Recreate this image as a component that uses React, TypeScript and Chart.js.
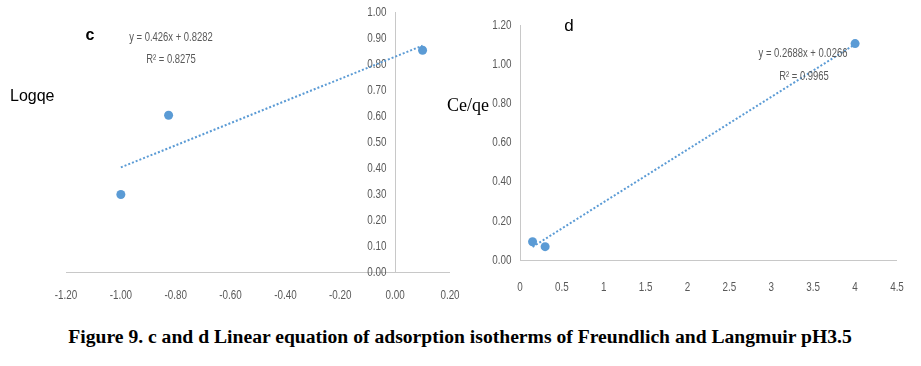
import React, { useEffect, useRef } from "react";
import { Chart, registerables } from "chart.js";

Chart.register(...registerables);

// ---- Data: Freundlich (chart c) ----
const freundlichX = [-1.0, -0.826, 0.1];
const freundlichY = [0.298, 0.603, 0.853];
const freundlichSlope = 0.426;
const freundlichIntercept = 0.8282;
const freundlichEquation = "y = 0.426x + 0.8282";
const freundlichR2 = "R\u00B2 = 0.8275";
const freundlichXTicks = ["-1.20", "-1.00", "-0.80", "-0.60", "-0.40", "-0.20", "0.00", "0.20"];
const freundlichYTicks = ["0.00", "0.10", "0.20", "0.30", "0.40", "0.50", "0.60", "0.70", "0.80", "0.90", "1.00"];

// ---- Data: Langmuir (chart d) ----
const langmuirX = [0.15, 0.3, 4.0];
const langmuirY = [0.093, 0.068, 1.105];
const langmuirSlope = 0.2688;
const langmuirIntercept = 0.0266;
const langmuirEquation = "y = 0.2688x + 0.0266";
const langmuirR2 = "R\u00B2 = 0.9965";
const langmuirXTicks = ["0", "0.5", "1", "1.5", "2", "2.5", "3", "3.5", "4", "4.5"];
const langmuirYTicks = ["0.00", "0.20", "0.40", "0.60", "0.80", "1.00", "1.20"];

const caption =
  "Figure 9. c and d Linear equation of adsorption isotherms of Freundlich and Langmuir pH3.5";

const BLUE = "#5b9bd5";
const AXIS = "#c8c8c8";
const TICK = "#595959";
const SANS = "'Liberation Sans', Arial, sans-serif";
const TICK_FONT = `13.5px ${SANS}`;
const TICK_SCALE = 0.73;

function drawSquished(ctx: CanvasRenderingContext2D, text: string, x: number, y: number, align: CanvasTextAlign) {
  ctx.save();
  ctx.translate(x, y);
  ctx.scale(TICK_SCALE, 1);
  ctx.textAlign = align;
  ctx.textBaseline = "middle";
  ctx.fillText(text, 0, 0);
  ctx.restore();
}

const axesPlugin = {
  id: "excelAxes",
  beforeDatasetsDraw(chart: any, _args: any, opts: any) {
    const { ctx, chartArea } = chart;
    const xs = chart.scales.x;
    const ys = chart.scales.y;
    const ax = Math.round(xs.getPixelForValue(0)) + 0.5;
    const ay = Math.round(ys.getPixelForValue(0)) + 0.5;
    ctx.save();
    ctx.strokeStyle = AXIS;
    ctx.lineWidth = 1;
    ctx.beginPath();
    ctx.moveTo(chartArea.left, ay);
    ctx.lineTo(chartArea.right, ay);
    ctx.moveTo(ax, chartArea.top);
    ctx.lineTo(ax, chartArea.bottom);
    ctx.stroke();
    ctx.fillStyle = TICK;
    ctx.font = TICK_FONT;
    for (const t of opts.xTicks as string[]) {
      drawSquished(ctx, t, xs.getPixelForValue(parseFloat(t)), ay + opts.xLabelOffset, "center");
    }
    for (const t of opts.yTicks as string[]) {
      drawSquished(ctx, t, ax - opts.yLabelGap, ys.getPixelForValue(parseFloat(t)), "right");
    }
    ctx.restore();
  },
};

type Padding = { left: number; right: number; top: number; bottom: number };

function makeConfig(
  xs: number[],
  ys: number[],
  slope: number,
  intercept: number,
  xTicks: string[],
  yTicks: string[],
  padding: Padding,
  xLabelOffset: number
): any {
  const pts = xs.map((x, i) => ({ x, y: ys[i] }));
  const x0 = Math.min(...xs);
  const x1 = Math.max(...xs);
  const trend = [
    { x: x0, y: slope * x0 + intercept },
    { x: x1, y: slope * x1 + intercept },
  ];
  const xv = xTicks.map(parseFloat);
  const yv = yTicks.map(parseFloat);
  return {
    type: "scatter",
    data: {
      datasets: [
        {
          data: pts,
          backgroundColor: BLUE,
          borderColor: BLUE,
          pointRadius: 4.5,
          pointBorderWidth: 0,
          order: 0,
        },
        {
          data: trend,
          showLine: true,
          borderColor: BLUE,
          borderWidth: 2,
          borderDash: [2, 2],
          pointRadius: 0,
          fill: false,
          order: 1,
        },
      ],
    },
    plugins: [axesPlugin],
    options: {
      responsive: false,
      maintainAspectRatio: false,
      animation: false,
      layout: { padding },
      plugins: {
        legend: { display: false },
        tooltip: { enabled: false },
        excelAxes: { xTicks, yTicks, xLabelOffset, yLabelGap: 9 },
      },
      scales: {
        x: {
          type: "linear",
          display: false,
          min: Math.min(...xv),
          max: Math.max(...xv),
          afterFit: (s: any) => {
            s.height = 0;
            s.paddingLeft = 0;
            s.paddingRight = 0;
            s.paddingTop = 0;
            s.paddingBottom = 0;
          },
        },
        y: {
          type: "linear",
          display: false,
          min: Math.min(...yv),
          max: Math.max(...yv),
          afterFit: (s: any) => {
            s.width = 0;
            s.paddingLeft = 0;
            s.paddingRight = 0;
            s.paddingTop = 0;
            s.paddingBottom = 0;
          },
        },
      },
    },
  };
}

function ChartCanvas({ config, left, top, width, height }: any) {
  const ref = useRef<HTMLCanvasElement | null>(null);
  useEffect(() => {
    if (!ref.current) return;
    const chart = new Chart(ref.current, config);
    return () => chart.destroy();
  }, []);
  return (
    <canvas
      ref={ref}
      width={width}
      height={height}
      style={{ position: "absolute", left, top, width, height }}
    />
  );
}

function Label({ x, y, text, style, sx = 1 }: any) {
  return (
    <div
      style={{
        position: "absolute",
        left: x,
        top: y,
        transform: `translate(-50%, -50%) scaleX(${sx})`,
        whiteSpace: "nowrap",
        lineHeight: 1,
        ...style,
      }}
    >
      {text}
    </div>
  );
}

export default function App() {
  const cfgC = makeConfig(
    freundlichX,
    freundlichY,
    freundlichSlope,
    freundlichIntercept,
    freundlichXTicks,
    freundlichYTicks,
    { left: 66, right: 20, top: 12, bottom: 48 },
    23
  );
  const cfgD = makeConfig(
    langmuirX,
    langmuirY,
    langmuirSlope,
    langmuirIntercept,
    langmuirXTicks,
    langmuirYTicks,
    { left: 60, right: 24, top: 25, bottom: 60 },
    27
  );
  const eqStyle = { fontFamily: SANS, fontSize: 13.5, color: TICK };
  return (
    <div
      style={{
        position: "absolute",
        left: 0,
        top: 0,
        width: 921,
        height: 366,
        background: "#fff",
        overflow: "hidden",
      }}
    >
      <ChartCanvas config={cfgC} left={0} top={0} width={470} height={320} />
      <ChartCanvas config={cfgD} left={460} top={0} width={461} height={320} />

      <Label x={90} y={35} text="c" style={{ fontFamily: SANS, fontWeight: "bold", fontSize: 16, color: "#000" }} />
      <Label x={171} y={37} text={freundlichEquation} style={eqStyle} sx={0.7} />
      <Label x={171} y={59} text={freundlichR2} style={eqStyle} sx={0.7} />
      <div
        style={{
          position: "absolute",
          left: 10,
          top: 96,
          transform: "translateY(-50%)",
          lineHeight: 1,
          fontFamily: SANS,
          fontSize: 16,
          color: "#000",
          whiteSpace: "nowrap",
        }}
      >
        Logqe
      </div>

      <Label x={569} y={25} text="d" style={{ fontFamily: SANS, fontSize: 17, color: "#000" }} />
      <Label x={803} y={53} text={langmuirEquation} style={eqStyle} sx={0.7} />
      <Label x={804} y={76} text={langmuirR2} style={eqStyle} sx={0.7} />
      <div
        style={{
          position: "absolute",
          left: 447,
          top: 105,
          transform: "translateY(-50%)",
          lineHeight: 1,
          fontFamily: "'Liberation Serif', serif",
          fontSize: 18,
          color: "#000",
          whiteSpace: "nowrap",
        }}
      >
        Ce/qe
      </div>

      <Label
        x={460}
        y={337}
        text={caption}
        sx={1.09}
        style={{ fontFamily: "'Liberation Serif', serif", fontWeight: "bold", fontSize: 18, color: "#000" }}
      />
    </div>
  );
}
